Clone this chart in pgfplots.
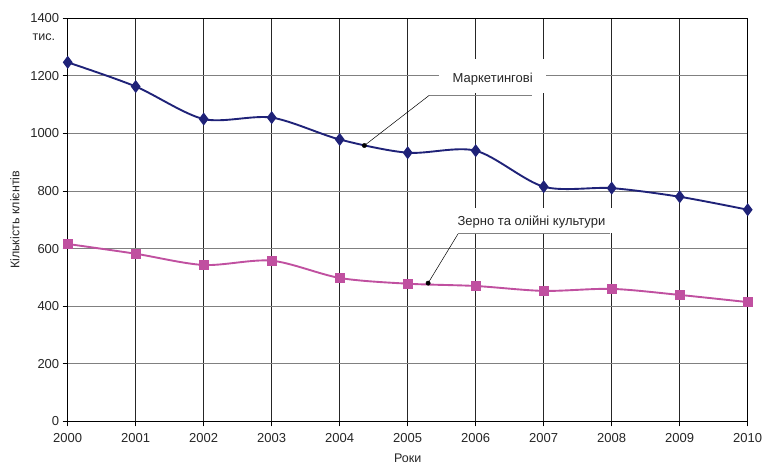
\documentclass[border=0pt]{standalone}
\usepackage{fontspec}
\setmainfont{Liberation Sans}
\usepackage{pgfplots}
\pgfplotsset{compat=1.18}
\definecolor{navyc}{HTML}{1F2278}
\definecolor{magc}{HTML}{C050A0}
\begin{document}
\begin{tikzpicture}
\begin{axis}[
  scale only axis,
  width=680bp, height=403bp,
  xmin=2000, xmax=2010, ymin=0, ymax=1400,
  xtick={2000,2001,...,2010},
  ytick={0,200,...,1400},
  /pgf/number format/assume math mode=true,
  /pgf/number format/1000 sep={},
  font=\fontsize{13bp}{15bp}\selectfont,
  tick label style={font=\fontsize{13bp}{15bp}\selectfont, color=black!85},
  xticklabel style={yshift=-3.5bp},
  tick align=outside,
  major tick length=5bp,
  tick style={black, line width=1pt},
  xtick pos=bottom, ytick pos=left,
  axis line style={black, line width=1.1pt},
  xmajorgrids, ymajorgrids,
  major x grid style={black!85, line width=0.9pt},
  major y grid style={black!50, line width=0.9pt},
  xlabel={Роки},
  ylabel={Кількість клієнтів},
  xlabel style={at={([yshift=-36.5bp]rel axis cs:0.5,0)}, anchor=center, font=\fontsize{12.5bp}{15bp}\selectfont, text=black!85},
  ylabel style={at={([xshift=-52.7bp]rel axis cs:0,0.5)}, anchor=center, font=\fontsize{12.5bp}{15bp}\selectfont, text=black!85},
  clip=false,
]
\coordinate (ll) at (rel axis cs:0,0);
\coordinate (ur) at (rel axis cs:1,1);
\addplot[navyc, line width=1.9pt, smooth, tension=0.5, mark=diamond*, mark size=5bp, mark options={solid, fill=navyc}]
 coordinates {(2000,1247) (2001,1163) (2002,1050) (2003,1055) (2004,979) (2005,933) (2006,940) (2007,815) (2008,810) (2009,780) (2010,735)};
\addplot[magc, line width=1.9pt, smooth, tension=0.5, mark=square*, mark size=4bp, mark options={solid, fill=magc}]
 coordinates {(2000,616) (2001,582) (2002,543) (2003,558) (2004,498) (2005,478) (2006,470) (2007,453) (2008,460) (2009,439) (2010,414)};
% callout boxes
\fill[white] (axis cs:2005.46,1142) rectangle (axis cs:2007.04,1257);
\node[anchor=center, text=black!85] at (axis cs:2006.25,1190) {Маркетингові};
\draw[black!50, line width=0.9pt] (axis cs:2005.315,1132) -- (axis cs:2006.823,1132);
\draw[black, line width=0.5pt] (axis cs:2004.363,958) -- (axis cs:2005.315,1132);
\fill[white] (axis cs:2005.61,655) rectangle (axis cs:2008.07,742);
\node[anchor=center, text=black!85] at (axis cs:2006.82,691) {Зерно та олійні культури};
\draw[black!50, line width=0.9pt] (axis cs:2005.74,651) -- (axis cs:2007.98,651);
\draw[black, line width=0.5pt] (axis cs:2005.30,480) -- (axis cs:2005.74,651);
\addplot[only marks, mark=*, mark size=2.2bp, black] coordinates {(2004.363,958) (2005.30,480)};
\node[anchor=east, text=black!85, font=\fontsize{12.5bp}{15bp}\selectfont] at ([xshift=-9bp, yshift=-19bp]rel axis cs:0,1) {тис.};
\end{axis}
\pgfresetboundingbox
\path ([xshift=-67.7bp,yshift=-45bp]ll) rectangle ([xshift=15.3bp,yshift=18.3bp]ur);
\end{tikzpicture}
\end{document}
